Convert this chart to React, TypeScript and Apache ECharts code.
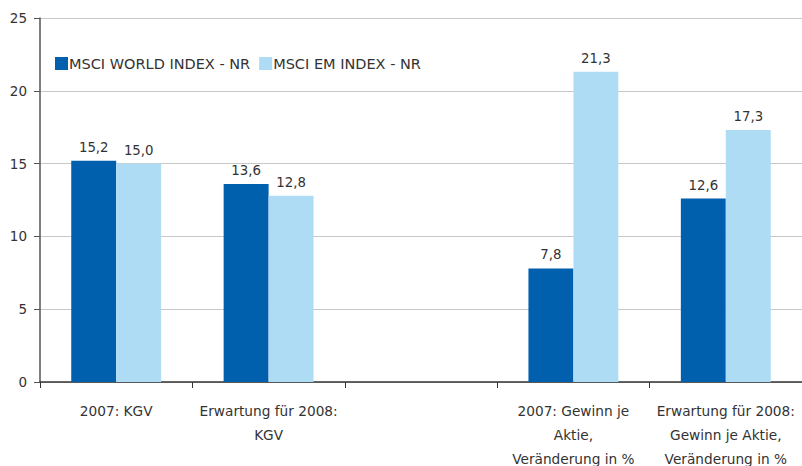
import React, { useEffect, useRef } from "react";
import * as echarts from "echarts";

const categories = [
  "2007: KGV",
  "Erwartung für 2008:\nKGV",
  "",
  "2007: Gewinn je\nAktie,\nVeränderung in %",
  "Erwartung für 2008:\nGewinn je Aktie,\nVeränderung in %",
];
const worldValues: (number | string)[] = [15.2, 13.6, "-", 7.8, 12.6];
const emValues: (number | string)[] = [15.0, 12.8, "-", 21.3, 17.3];
const seriesNames = ["MSCI WORLD INDEX - NR", "MSCI EM INDEX - NR"];
const colors = ["#0060ae", "#afdcf5"];

const FONT = "DejaVu Sans";

export default function App() {
  const ref = useRef<HTMLDivElement>(null);
  useEffect(() => {
    document.body.style.margin = "0";
    document.body.style.overflow = "hidden";
    document.documentElement.style.overflow = "hidden";
    const chart = echarts.init(ref.current!, null, { renderer: "svg" });
    const label = {
      show: true,
      position: "top" as const,
      distance: 7,
      color: "#333",
      fontSize: 13.3,
      fontFamily: FONT,
      formatter: (p: any) => Number(p.value).toFixed(1).replace(".", ","),
    };
    chart.setOption({
      animation: false,
      textStyle: { fontFamily: FONT },
      legend: {
        left: 50,
        top: 51,
        itemWidth: 13,
        itemHeight: 13,
        itemGap: 9,
        icon: "rect",
        textStyle: { color: "#333", fontSize: 14.5, fontFamily: FONT, padding: [0, 0, 0, -4] },
        data: seriesNames,
      },
      grid: { left: 40, top: 18, width: 762, height: 364, containLabel: false },
      xAxis: {
        type: "category",
        data: categories,
        axisLine: { lineStyle: { color: "#333", width: 1.5 } },
        axisTick: { show: true, length: 6, lineStyle: { color: "#333" } },
        axisLabel: {
          color: "#333",
          fontSize: 13.7,
          fontFamily: FONT,
          lineHeight: 24,
          margin: 17,
          padding: [0, 0, -7, 0],
          interval: 0,
        },
      },
      yAxis: {
        type: "value",
        min: 0,
        max: 25,
        interval: 5,
        axisLine: { show: true, lineStyle: { color: "#555", width: 1.5 } },
        axisTick: { show: true, length: 6, inside: false, lineStyle: { color: "#555" } },
        axisLabel: { color: "#333", fontSize: 13.5, fontFamily: FONT, margin: 13 },
        splitLine: { lineStyle: { color: "#c8c8c8" } },
      },
      series: [
        {
          name: seriesNames[0],
          type: "bar",
          data: worldValues,
          itemStyle: { color: colors[0] },
          barGap: "0%",
          barCategoryGap: "41%",
          label,
        },
        {
          name: seriesNames[1],
          type: "bar",
          data: emValues,
          itemStyle: { color: colors[1] },
          barGap: "0%",
          barCategoryGap: "41%",
          label,
        },
      ],
    });
    return () => chart.dispose();
  }, []);
  return (
    <div style={{ width: 802, height: 466, overflow: "hidden", position: "relative" }}>
      <div ref={ref} style={{ width: 802, height: 466 }} />
    </div>
  );
}
